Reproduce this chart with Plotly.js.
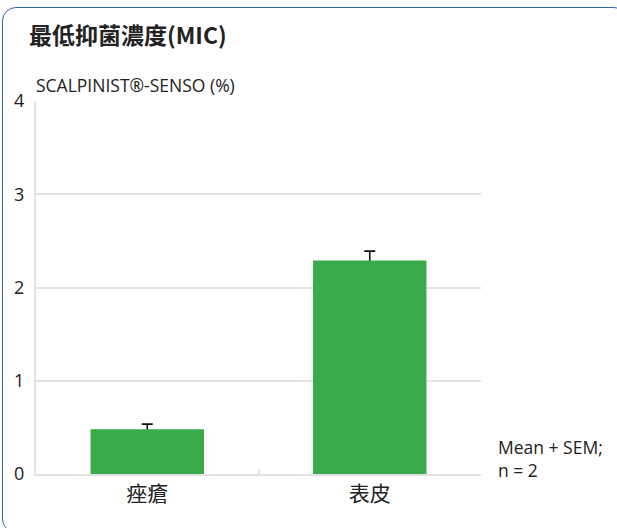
<!DOCTYPE html>
<html>
<head>
<meta charset="utf-8">
<script src="https://cdn.plot.ly/plotly-3.0.1.min.js"></script>
<style>
  html, body { margin: 0; padding: 0; background: #fff; overflow: hidden; }
  #card { position: absolute; left: 2px; top: 7px; width: 626px; height: 526px;
          border: 1.5px solid #3463ad; border-radius: 14px; box-sizing: border-box; }
  #chart { position: absolute; left: 0; top: 0; width: 617px; height: 528px; }
</style>
</head>
<body>
<div id="card"></div>
<div id="chart"></div>
<script>
const categories = ["痤瘡", "表皮"];
const meanValues = [0.48, 2.29];
const semValues = [0.055, 0.10];
const yTickValues = [0, 1, 2, 3, 4];
const chartTitle = "最低抑菌濃度(MIC)";
const yAxisTitle = "SCALPINIST®-SENSO (%)";
const noteText = "Mean + SEM;<br>n = 2";

const W = 617, H = 528;
const margin = { l: 36, r: 136, t: 101, b: 54 };
const plotW = W - margin.l - margin.r;
const plotH = H - margin.t - margin.b;
const px2x = x => (x - margin.l) / plotW;
const py2y = y => (H - margin.b - y) / plotH;

const fontFam = "'Open Sans', 'Noto Sans CJK TC', sans-serif";
const cjkFam = "'Noto Sans CJK TC', 'Open Sans', sans-serif";
const barWidth = 0.51;

// error bars drawn first (hidden bar), then the green bar on top hides the lower half
const errTrace = {
  type: "bar",
  x: categories,
  y: meanValues,
  width: barWidth,
  marker: { color: "rgba(0,0,0,0)", line: { width: 0 } },
  error_y: { type: "data", array: semValues, symmetric: true,
             color: "#111", thickness: 1.6, width: 5.5 },
  hoverinfo: "none"
};
const barTrace = {
  type: "bar",
  x: categories,
  y: meanValues,
  width: barWidth,
  marker: { color: "#3aab4a", line: { width: 0 } },
  hoverinfo: "none"
};

const layout = {
  width: W, height: H,
  margin: margin,
  barmode: "overlay",
  paper_bgcolor: "rgba(0,0,0,0)",
  plot_bgcolor: "#fff",
  showlegend: false,
  title: { text: "<b>" + chartTitle + "</b>", font: { family: cjkFam, size: 23, color: "#222" },
           xref: "container", x: 29 / W, xanchor: "left",
           yref: "container", y: 1 - 36 / H, yanchor: "middle" },
  xaxis: {
    type: "category", range: [-0.5, 1.5],
    tickson: "boundaries", ticks: "inside", ticklen: 5, tickwidth: 2, tickcolor: "#e3e3e3",
    showline: true, linecolor: "#e3e3e3", linewidth: 2,
    showgrid: false, zeroline: false,
    tickfont: { family: cjkFam, size: 21, color: "#222" }
  },
  yaxis: {
    range: [0, 4], tickvals: yTickValues, ticktext: yTickValues.map(String),
    showgrid: true, gridcolor: "#e3e3e3", gridwidth: 2,
    showline: true, linecolor: "#e3e3e3", linewidth: 2,
    zeroline: false, ticks: "", ticklabelstandoff: 6,
    tickfont: { family: fontFam, size: 18, color: "#222" }
  },
  annotations: [
    { text: yAxisTitle, xref: "paper", yref: "paper", x: px2x(34), y: py2y(85),
      xanchor: "left", yanchor: "middle", showarrow: false,
      font: { family: fontFam, size: 17.5, color: "#222" } },
    { text: noteText, xref: "paper", yref: "paper", x: px2x(496), y: py2y(458),
      xanchor: "left", yanchor: "middle", align: "left", showarrow: false,
      font: { family: fontFam, size: 17.5, color: "#222" } }
  ]
};

Plotly.newPlot("chart", [errTrace, barTrace], layout, { displayModeBar: false, staticPlot: true });
</script>
</body>
</html>
